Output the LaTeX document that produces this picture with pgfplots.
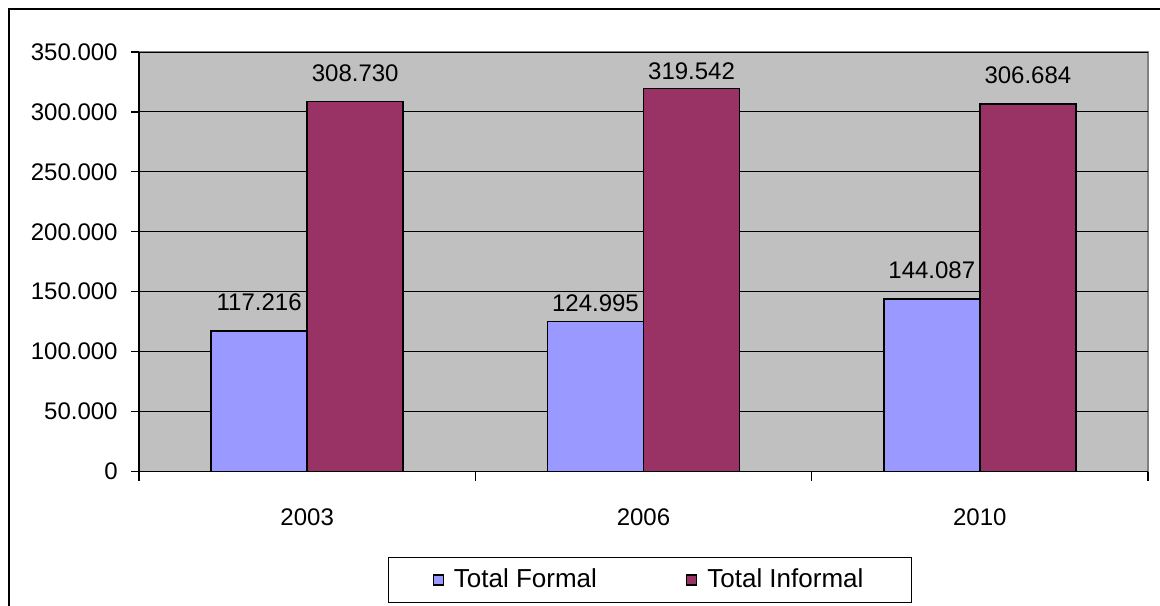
\documentclass[border=0pt]{standalone}
\usepackage{fontspec}
\setmainfont{Liberation Sans}
\usepackage{pgfplots}
\usepackage{pgfplotstable}
\pgfplotsset{compat=1.18}

\definecolor{plotbg}{HTML}{C0C0C0}
\definecolor{formal}{HTML}{9999FF}
\definecolor{informal}{HTML}{993366}
\definecolor{border}{HTML}{808080}

% x = category centre, y = value, lab = label text, off = label gap (pt)
\pgfplotstableread{
x   y      lab     off
0.5 117216 117.216 10.5
1.5 124995 124.995 5
2.5 144087 144.087 10
}\formal
\pgfplotstableread{
x   y      lab     off
0.5 308730 308.730 10
1.5 319542 319.542 4.5
2.5 306684 306.684 10
}\informal

\begin{document}
\begin{tikzpicture}[font=\fontsize{12}{14.4}\selectfont]
\useasboundingbox (0,0) rectangle (580pt,302.5pt);
\draw[line width=0.6pt] (4.5pt,-5pt) -- (4.5pt,298pt) -- (590pt,298pt);
\begin{axis}[
    at={(69.5pt,66.75pt)}, anchor=south west,
    scale only axis,
    width=504.5pt, height=209.75pt,
    axis lines=left,
    axis line style={-, black, line width=0.6pt},
    axis background/.style={fill=plotbg, draw=border, line width=0.6pt},
    xmin=0, xmax=3,
    ymin=0, ymax=350000,
    ytick distance=50000,
    scaled y ticks=false,
    /pgf/number format/.cd, fixed, 1000 sep={.}, assume math mode=true,
    /pgfplots/.cd,
    xtick={0.5,1.5,2.5},
    xticklabels={2003,2006,2010},
    minor xtick={0,1,2,3},
    major x tick style={draw=none},
    minor tick length=4.5pt,
    major tick length=4pt,
    tick align=outside,
    tick style={black, line width=0.6pt},
    xticklabel style={anchor=north, inner sep=0pt, yshift=-14.5pt},
    yticklabel style={anchor=east, inner sep=0pt, xshift=-6.5pt},
    ymajorgrids=true,
    grid style={black, line width=0.5pt},
    ybar=0pt,
    bar width=0.2857,
    legend columns=2,
    legend style={
        at={(0.5064,-0.2586)}, anchor=center,
        draw=black, line width=0.5pt,
        font=\fontsize{13}{15.6}\selectfont,
        inner xsep=22pt, inner ysep=4pt,
        /tikz/every even column/.append style={column sep=42.5pt},
    },
    legend image code/.code={
        \draw[#1, draw=black, line width=0.6pt] (0pt,-2.5pt) rectangle (5pt,2.5pt);
        \path (8pt,0pt);
    },
    nodes near coords,
    point meta=explicit symbolic,
    visualization depends on={\thisrow{off} \as \off},
    every node near coord/.append style={anchor=base, inner sep=0pt, yshift=\off pt, black},
]
\addplot[fill=formal, draw=black, line width=0.8pt] table[x=x, y=y, meta=lab] {\formal};
\addplot[fill=informal, draw=black, line width=0.8pt] table[x=x, y=y, meta=lab] {\informal};
\legend{Total Formal, Total Informal}
\end{axis}
\end{tikzpicture}
\end{document}
